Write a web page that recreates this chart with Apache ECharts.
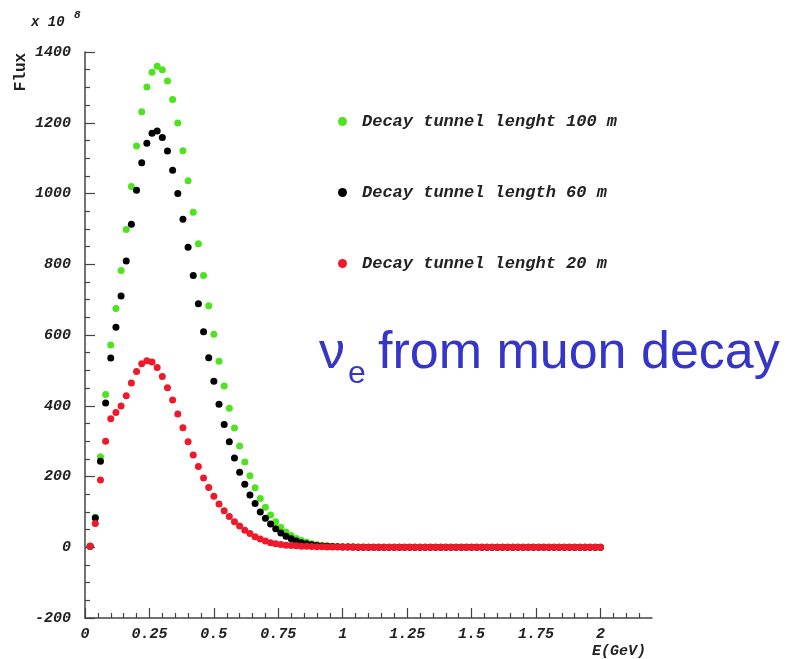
<!DOCTYPE html>
<html>
<head>
<meta charset="utf-8">
<script src="https://cdn.jsdelivr.net/npm/echarts@6/dist/echarts.min.js"></script>
<style>html,body{margin:0;padding:0;background:#fff;}#c{width:792px;height:659px;}</style>
</head>
<body>
<div id="c"></div>
<script>
// Energy (GeV) of each point
var energy = [
  0.02,0.04,0.06,0.08,0.10,0.12,0.14,0.16,0.18,0.20,
  0.22,0.24,0.26,0.28,0.30,0.32,0.34,0.36,0.38,0.40,
  0.42,0.44,0.46,0.48,0.50,0.52,0.54,0.56,0.58,0.60,
  0.62,0.64,0.66,0.68,0.70,0.72,0.74,0.76,0.78,0.80,
  0.82,0.84,0.86,0.88,0.90,0.92,0.94,0.96,0.98,1.00,
  1.02,1.04,1.06,1.08,1.10,1.12,1.14,1.16,1.18,1.20,
  1.22,1.24,1.26,1.28,1.30,1.32,1.34,1.36,1.38,1.40,
  1.42,1.44,1.46,1.48,1.50,1.52,1.54,1.56,1.58,1.60,
  1.62,1.64,1.66,1.68,1.70,1.72,1.74,1.76,1.78,1.80,
  1.82,1.84,1.86,1.88,1.90,1.92,1.94,1.96,1.98,2.00
];
var seriesNames = ['Decay tunnel lenght 100 m', 'Decay tunnel length 60 m', 'Decay tunnel lenght 20 m'];
var flux100 = [
  3,85,256,432,572,675,782,898,1020,1134,
  1231,1301,1343,1360,1350,1318,1266,1199,1121,1036,
  947,858,768,683,602,526,456,393,337,286,
  241,202,168,138,113,91,72,56,43,33,
  25,19,14,10,7,5,4,3,2,1.5,
  1.1,0.8,0.6,0.4,0.3,0.2,0.2,0.1,0.1,0.1,
  0,0,0,0,0,0,0,0,0,0,
  0,0,0,0,0,0,0,0,0,0,
  0,0,0,0,0,0,0,0,0,0,
  0,0,0,0,0,0,0,0,0,0
];
var flux60 = [
  3,83,243,408,535,622,710,809,913,1009,
  1087,1142,1170,1177,1158,1120,1066,1000,927,848,
  768,688,609,536,469,404,347,298,252,212,
  178,148,124,100,82,66,52,40,31,24,
  18,13,10,7,5,3.5,2.5,1.8,1.2,0.8,
  0.6,0.4,0.3,0.2,0.1,0.1,0.1,0,0,0,
  0,0,0,0,0,0,0,0,0,0,
  0,0,0,0,0,0,0,0,0,0,
  0,0,0,0,0,0,0,0,0,0,
  0,0,0,0,0,0,0,0,0,0
];
var flux20 = [
  3,67,190,300,363,381,399,428,464,497,
  519,527,524,508,483,451,416,377,338,298,
  261,228,196,169,144,122,103,87,72,60,
  48,39,30,23,18,13,10,8,6,5,
  4,3,2.5,2,1.5,1.2,1,0.8,0.6,0.5,
  0.4,0.3,0.2,0.2,0.1,0.1,0.1,0,0,0,
  0,0,0,0,0,0,0,0,0,0,
  0,0,0,0,0,0,0,0,0,0,
  0,0,0,0,0,0,0,0,0,0,
  0,0,0,0,0,0,0,0,0,0
];
var xMajorTicks = [0,0.25,0.5,0.75,1,1.25,1.5,1.75,2];
var xMinorTicks = [0.05,0.1,0.15,0.2,0.3,0.35,0.4,0.45,0.55,0.6,0.65,0.7,0.8,0.85,0.9,0.95,
  1.05,1.1,1.15,1.2,1.3,1.35,1.4,1.45,1.55,1.6,1.65,1.7,1.8,1.85,1.9,1.95,2.05,2.1,2.15];
var colors = ['#4fe31f', '#000000', '#ee1a2c'];

var mono = "'Liberation Mono', 'DejaVu Sans Mono', monospace";
function pairs(vals){ return energy.map(function(e,i){ return [e, vals[i]]; }); }

var chart = echarts.init(document.getElementById('c'));
var axisLabelStyle = {fontFamily: mono, fontStyle: 'italic', fontWeight: 'bold', fontSize: 15, color: '#222'};
var legendBase = {
  orient: 'horizontal', icon: 'circle', itemWidth: 9, itemHeight: 9, padding: 0,
  selectedMode: false, left: 338,
  itemStyle: {opacity: 1},
  textStyle: {fontFamily: mono, fontStyle: 'italic', fontWeight: 'bold', fontSize: 17, color: '#222', padding: [0,0,0,10]}
};
chart.setOption({
  animation: false,
  backgroundColor: '#fff',
  color: colors,
  grid: {left: 85, right: 140, top: 52, bottom: 41},
  legend: [
    Object.assign({}, legendBase, {data: [seriesNames[0]], top: 113}),
    Object.assign({}, legendBase, {data: [seriesNames[1]], top: 184}),
    Object.assign({}, legendBase, {data: [seriesNames[2]], top: 255})
  ],
  xAxis: [{
    type: 'value', min: 0, max: 2.2, interval: 0.25,
    splitLine: {show: false},
    axisLine: {onZero: false, lineStyle: {color: '#444', width: 1.5}},
    axisTick: {inside: true, length: 10, lineStyle: {color: '#444', width: 1.2}, customValues: xMajorTicks},
    axisLabel: Object.assign({margin: 9, customValues: xMajorTicks}, axisLabelStyle)
  }, {
    type: 'value', min: 0, max: 2.2, position: 'bottom',
    splitLine: {show: false},
    axisLine: {show: false, onZero: false},
    axisTick: {show: true, inside: true, length: 5, lineStyle: {color: '#444', width: 1.2}, customValues: xMinorTicks},
    axisLabel: {show: false}
  }],
  yAxis: {
    type: 'value', min: -200, max: 1400, interval: 200,
    splitLine: {show: false},
    axisLine: {show: true, onZero: false, lineStyle: {color: '#444', width: 1.5}},
    axisTick: {show: true, inside: true, length: 10, lineStyle: {color: '#444', width: 1.2}},
    minorTick: {show: true, splitNumber: 4, length: 5, lineStyle: {color: '#444', width: 1.2}},
    axisLabel: Object.assign({margin: 14, formatter: function(v){ return String(v); }}, axisLabelStyle)
  },
  series: [
    {name: seriesNames[0], type: 'scatter', symbolSize: 7, data: pairs(flux100), itemStyle: {color: colors[0], opacity: 1}},
    {name: seriesNames[1], type: 'scatter', symbolSize: 7, data: pairs(flux60), itemStyle: {color: colors[1], opacity: 1}},
    {name: seriesNames[2], type: 'scatter', symbolSize: 7, data: pairs(flux20), itemStyle: {color: colors[2], opacity: 1}}
  ],
  graphic: [
    {type: 'text', x: 31, y: 22, style: {text: 'x 10', font: "italic bold 14px " + mono, fill: '#222', align: 'left', verticalAlign: 'middle'}},
    {type: 'text', x: 74, y: 15, style: {text: '8', font: "italic bold 11px " + mono, fill: '#222', align: 'left', verticalAlign: 'middle'}},
    {type: 'text', x: 21, y: 72, rotation: Math.PI / 2, style: {text: 'Flux', font: "bold 16px " + mono, fill: '#222', align: 'center', verticalAlign: 'middle'}},
    {type: 'text', x: 619, y: 651, style: {text: 'E(GeV)', font: "italic bold 15px " + mono, fill: '#222', align: 'center', verticalAlign: 'middle'}},
    {type: 'text', x: 319, y: 354, style: {text: 'ν', font: "52px 'Liberation Sans', Arial, sans-serif", fill: '#3535c8', align: 'left', verticalAlign: 'middle'}},
    {type: 'text', x: 348, y: 374, style: {text: 'e', font: "32px 'Liberation Sans', Arial, sans-serif", fill: '#3535c8', align: 'left', verticalAlign: 'middle'}},
    {type: 'text', x: 378, y: 354, style: {text: 'from muon decay', font: "52px 'Liberation Sans', Arial, sans-serif", fill: '#3535c8', align: 'left', verticalAlign: 'middle'}}
  ]
});
</script>
</body>
</html>
